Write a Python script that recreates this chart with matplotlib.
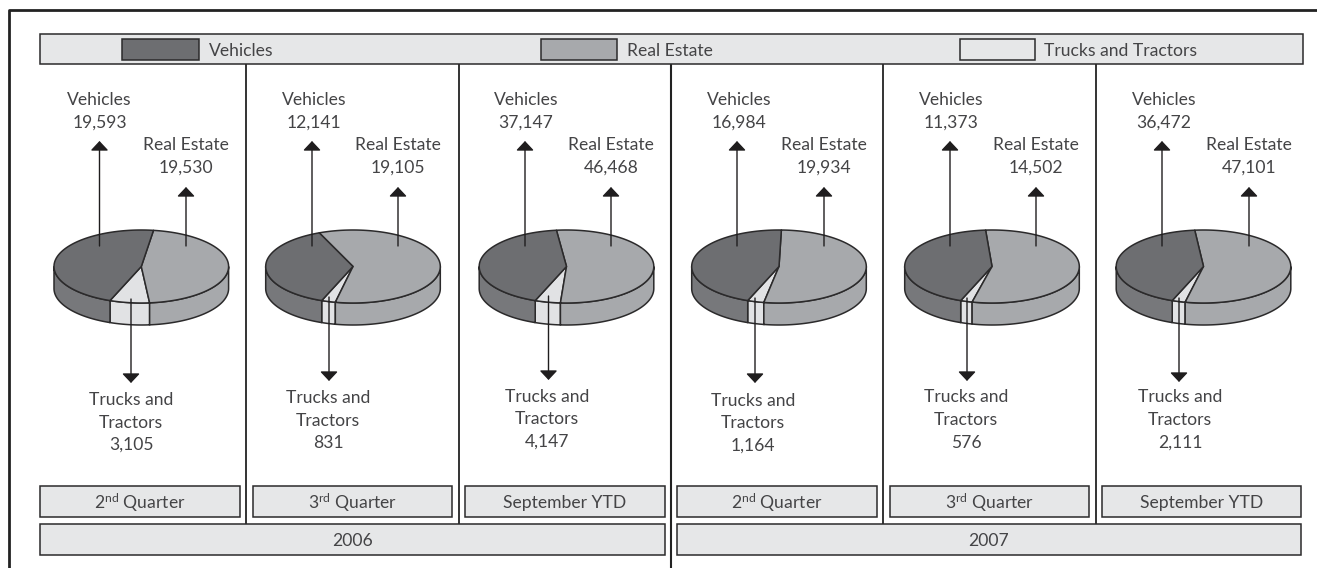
import numpy as np
import matplotlib
matplotlib.use("Agg")
import matplotlib.pyplot as plt
from matplotlib.patches import Polygon, Rectangle

plt.rcParams["font.family"] = ["Lato", "DejaVu Sans"]
plt.rcParams["mathtext.fontset"] = "custom"
plt.rcParams["mathtext.rm"] = "Lato"
plt.rcParams["mathtext.default"] = "rm"

# data
periods = ["2$^{nd}$ Quarter", "3$^{rd}$ Quarter", "September YTD"] * 2
years = ["2006", "2007"]
vehicles = [19593, 12141, 37147, 16984, 11373, 36472]
real_estate = [19530, 19105, 46468, 19934, 14502, 47101]
trucks = [3105, 831, 4147, 1164, 576, 2111]
series_names = ["Vehicles", "Real Estate", "Trucks and Tractors"]

# colours
C_VEH = "#6d6e71"
C_VEH_SIDE = "#77787b"
C_REAL = "#a7a9ac"
C_TRUCK = "#e1e2e4"
C_BAR = "#e6e7e8"
C_LINE = "#2b2a2b"
C_TEXT = "#444446"

# layout, in reference pixels
pie_x = [141.3, 353, 566.5, 779, 992, 1203.5]
pie_y = 266.5
rx, ry, depth = 87.3, 36.5, 22
veh_x = [99.5, 312, 525, 737, 950, 1162]
veh_text_x = [99.5, 314, 526, 739, 951, 1164]
real_x = [186, 398, 611, 824, 1036, 1249]
truck_x = [131, 329, 548.5, 755, 967, 1179]
truck_text_x = [131, 328, 547, 753, 966, 1180]
truck_start = [299, 297, 296, 298, 298, 298]
truck_tip = [383, 381, 380, 383, 381, 382]
truck_text_y = [399.5, 397.5, 396, 400, 397, 397]
dividers = [246, 459, 883, 1096]
quarter_boxes = [(40, 240), (253, 452), (465, 665), (677, 877), (890, 1089), (1102, 1301)]
year_boxes = [(40, 665), (677, 1301)]
swatches = [(122, 199), (541, 617), (960, 1035)]
legend_text_x = [209, 627, 1044]
START_ANGLE = 249
FS = 12.6
LS = 1.5


def arc(cx, cy, a0, a1):
    t = np.radians(np.linspace(a0, a1, max(int(abs(a1 - a0)) * 2, 2)))
    return np.column_stack([cx + rx * np.cos(t), cy - ry * np.sin(t)])


def box(ax, x0, x1, y0, y1, fc=C_BAR, lw=1.1):
    ax.add_patch(Rectangle((x0, y0), x1 - x0, y1 - y0, fc=fc, ec=C_LINE, lw=lw, zorder=2))


def arrow(ax, x, y0, y1):
    ax.annotate("", xy=(x, y1), xytext=(x, y0), zorder=5,
                arrowprops=dict(arrowstyle="-|>,head_length=0.41,head_width=0.385", color="#1f1d1e",
                                lw=1.0, shrinkA=0, shrinkB=0, mutation_scale=14))


def draw_pie(ax, cx, values):
    cols = [C_TRUCK, C_REAL, C_VEH]
    side_cols = [C_TRUCK, C_REAL, C_VEH_SIDE]
    angles = START_ANGLE + np.concatenate([[0], np.cumsum(values)]) / sum(values) * 360
    # side wall first, only the part facing the viewer
    for i in range(3):
        for lo, hi in [(180, 360), (540, 720)]:
            a0, a1 = max(angles[i], lo), min(angles[i + 1], hi)
            if a1 <= a0:
                continue
            top = arc(cx, pie_y, a0, a1)
            bottom = arc(cx, pie_y + depth, a1, a0)
            ax.add_patch(Polygon(np.vstack([top, bottom]), fc=side_cols[i], ec=C_LINE, lw=1.1, zorder=3))
    for i in range(3):
        pts = np.vstack([[cx, pie_y], arc(cx, pie_y, angles[i], angles[i + 1])])
        ax.add_patch(Polygon(pts, fc=cols[i], ec=C_LINE, lw=1.1, joinstyle="round", zorder=4))


def main():
    fig = plt.figure(figsize=(13.17, 5.68), dpi=100)
    ax = fig.add_axes([0, 0, 1, 1])
    ax.set_xlim(0, 1317)
    ax.set_ylim(568, 0)
    ax.axis("off")

    # outer frame, open on the right and at the bottom
    ax.plot([8.5, 8.5, 1317], [568, 10, 10], color="#222222", lw=2.0, zorder=1)
    ax.plot([671, 671], [64, 568], color="#222222", lw=1.5, zorder=1)
    for x in dividers:
        ax.plot([x, x], [64, 524], color="#333333", lw=1.4, zorder=1)

    # legend strip
    box(ax, 40, 1303, 34, 64)
    for (x0, x1), col, tx, name in zip(swatches, [C_VEH, C_REAL, C_BAR], legend_text_x, series_names):
        box(ax, x0, x1, 39, 60, fc=col)
        ax.text(tx, 51, name, ha="left", va="center", fontsize=FS, color=C_TEXT, zorder=6)

    for i in range(6):
        draw_pie(ax, pie_x[i], [trucks[i], real_estate[i], vehicles[i]])
        arrow(ax, veh_x[i], 246, 141)
        arrow(ax, real_x[i], 246, 187)
        arrow(ax, truck_x[i], truck_start[i], truck_tip[i])
        ax.text(veh_text_x[i], 111, f"Vehicles\n{vehicles[i]:,}", ha="center", va="center",
                fontsize=FS, color=C_TEXT, linespacing=LS, zorder=6)
        ax.text(real_x[i], 156, f"Real Estate\n{real_estate[i]:,}", ha="center", va="center",
                fontsize=FS, color=C_TEXT, linespacing=LS, zorder=6)
        ax.text(truck_text_x[i], truck_text_y[i] + 23, f"Trucks and\nTractors\n{trucks[i]:,}", ha="center",
                va="center", fontsize=FS, color=C_TEXT, linespacing=LS, zorder=6)
        x0, x1 = quarter_boxes[i]
        box(ax, x0, x1, 486, 516.5)
        ax.text((x0 + x1) / 2, 503, periods[i], ha="center", va="center", fontsize=FS, color=C_TEXT, zorder=6)

    for (x0, x1), year in zip(year_boxes, years):
        box(ax, x0, x1, 524, 555)
        ax.text((x0 + x1) / 2, 541, year, ha="center", va="center", fontsize=FS, color=C_TEXT, zorder=6)

    fig.savefig("out.png", dpi=100)
    plt.close(fig)


if __name__ == "__main__":
    main()
